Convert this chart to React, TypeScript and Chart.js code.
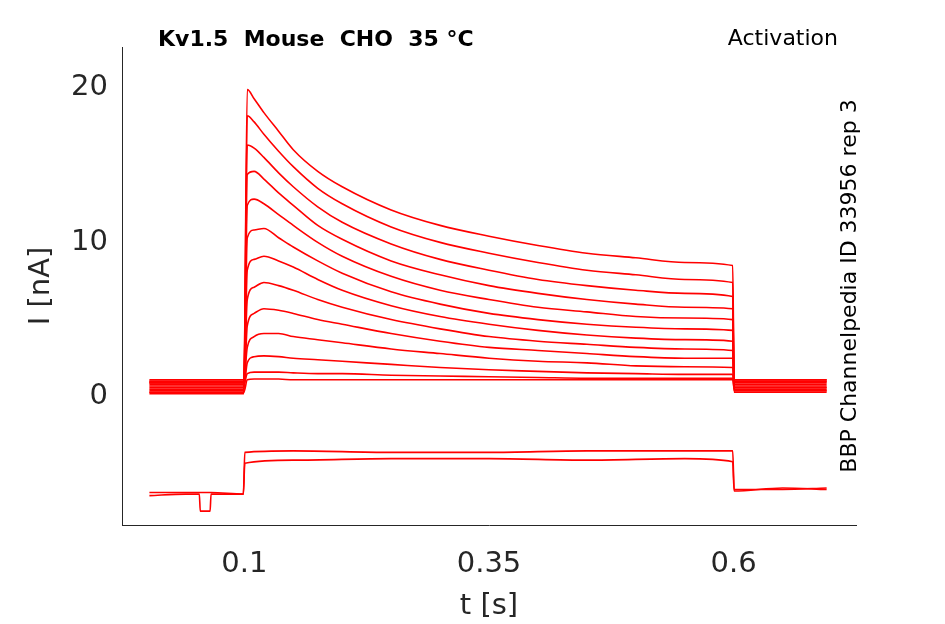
import React, { useEffect, useRef } from "react";
import { Chart, registerables } from "chart.js";
Chart.register(...registerables);

const stepTimes = [0.103, 0.11, 0.12, 0.135, 0.15, 0.175, 0.2, 0.25, 0.3, 0.35, 0.4, 0.45, 0.5, 0.55, 0.599];
const upTraces: number[][] = [
  [19.9, 19.3, 18.4, 17.2, 16.0, 14.6, 13.6, 12.1, 11.1, 10.4, 9.8, 9.3, 9.0, 8.7, 8.5],
  [18.2, 17.8, 17.0, 15.9, 14.9, 13.5, 12.5, 11.0, 10.0, 9.3, 8.7, 8.2, 7.9, 7.6, 7.4],
  [16.3, 16.1, 15.5, 14.5, 13.6, 12.3, 11.3, 9.9, 8.9, 8.2, 7.6, 7.2, 6.9, 6.7, 6.5],
  [14.4, 14.6, 14.1, 13.2, 12.4, 11.1, 10.2, 8.8, 7.9, 7.2, 6.7, 6.3, 6.0, 5.8, 5.7],
  [12.4, 12.8, 12.5, 11.8, 11.1, 10.0, 9.1, 7.8, 6.9, 6.3, 5.8, 5.5, 5.2, 5.1, 5.0],
  [10.3, 10.8, 10.9, 10.3, 9.7, 8.8, 8.0, 6.8, 6.0, 5.4, 5.0, 4.7, 4.5, 4.4, 4.3],
  [8.2, 8.9, 9.1, 8.8, 8.4, 7.6, 6.9, 5.9, 5.2, 4.7, 4.3, 4.0, 3.8, 3.7, 3.6],
  [6.3, 7.1, 7.4, 7.2, 6.9, 6.3, 5.8, 5.0, 4.4, 3.9, 3.6, 3.4, 3.2, 3.1, 3.0],
  [4.6, 5.4, 5.7, 5.6, 5.4, 5.0, 4.7, 4.1, 3.6, 3.2, 3.0, 2.8, 2.6, 2.5, 2.5],
  [3.2, 3.9, 4.1, 4.1, 3.9, 3.7, 3.5, 3.1, 2.8, 2.5, 2.3, 2.2, 2.0, 1.95, 1.9],
  [2.2, 2.6, 2.65, 2.6, 2.5, 2.4, 2.3, 2.1, 1.9, 1.75, 1.65, 1.55, 1.5, 1.45, 1.45],
  [1.5, 1.6, 1.6, 1.6, 1.55, 1.5, 1.5, 1.4, 1.35, 1.3, 1.25, 1.2, 1.2, 1.2, 1.2],
  [1.1, 1.15, 1.15, 1.15, 1.1, 1.1, 1.1, 1.1, 1.1, 1.1, 1.1, 1.1, 1.1, 1.1, 1.1],
];
const preBase = [0.9, 1.0, 0.5, 0.3, 1.1, 0.7, 0.2, 0.9, 0.4, 1.0, 0.6, 0.8, 0.3];
const postBase = [1.0, 0.6, 0.4, 1.1, 0.8, 0.3, 0.9, 0.5, 1.0, 0.7, 0.4, 1.1, 0.6];

const negTimes = [0.003, 0.04, 0.054, 0.055, 0.065, 0.066, 0.099, 0.1005, 0.15, 0.25, 0.35, 0.45, 0.55, 0.599, 0.6005, 0.65, 0.695];
const negTraceA = [-6.4, -6.3, -6.3, -7.4, -7.4, -6.3, -6.3, -3.6, -3.5, -3.6, -3.6, -3.5, -3.5, -3.5, -6.0, -6.0, -5.9];
const negTraceB = [-6.2, -6.2, -6.2, -6.2, -6.2, -6.2, -6.3, -4.3, -4.1, -4.0, -4.0, -4.1, -4.0, -4.2, -6.1, -5.9, -6.0];

const xTicks = [0.1, 0.35, 0.6];
const yTicks = [0, 10, 20];

export default function App() {
  const ref = useRef<HTMLCanvasElement>(null);
  useEffect(() => {
    const datasets: any[] = upTraces.map((vals, i) => ({
      data: [
        { x: 0.003, y: preBase[i] },
        { x: 0.0995, y: preBase[i] },
        ...stepTimes.map((t, j) => ({ x: t, y: vals[j] })),
        { x: 0.6005, y: postBase[i] },
        { x: 0.695, y: postBase[i] },
      ],
    }));
    datasets.push({ data: negTimes.map((t, j) => ({ x: t, y: negTraceA[j] })) });
    datasets.push({ data: negTimes.map((t, j) => ({ x: t, y: negTraceB[j] })) });
    datasets.forEach((d) => {
      d.borderColor = "#ff0000";
      d.borderWidth = 1.6;
      d.pointRadius = 0;
      d.cubicInterpolationMode = "monotone";
    });
    const textPlugin = {
      id: "texts",
      afterDraw(c: any) {
        const ctx = c.ctx;
        ctx.save();
        ctx.fillStyle = "#000";
        ctx.font = "bold 22px 'DejaVu Sans'";
        ctx.textBaseline = "middle";
        ctx.fillText("Kv1.5  Mouse  CHO  35 °C", 158, 40);
        ctx.font = "22px 'DejaVu Sans'";
        ctx.textAlign = "right";
        ctx.fillText("Activation", 838, 39);
        ctx.translate(850, 286);
        ctx.rotate(-Math.PI / 2);
        ctx.textAlign = "center";
        ctx.fillText("BBP Channelpedia ID 33956 rep 3", 0, 0);
        ctx.restore();
      },
    };
    const tickFont = { family: "'DejaVu Sans'", size: 29 };
    const chart = new Chart(ref.current!, {
      type: "line",
      data: { datasets },
      plugins: [textPlugin],
      options: {
        animation: false,
        responsive: false,
        layout: { padding: { top: 47, right: 89, left: 24, bottom: 0 } },
        plugins: { legend: { display: false }, tooltip: { enabled: false } },
        scales: {
          x: {
            type: "linear",
            min: -0.025,
            max: 0.725,
            grid: { display: false, drawTicks: false },
            border: { color: "#262626", width: 1 },
            afterBuildTicks: (s: any) => { s.ticks = xTicks.map((v) => ({ value: v })); },
            afterFit: (s: any) => { s.height = 99; },
            ticks: { color: "#262626", font: tickFont, callback: (v: any) => String(v), maxRotation: 0, padding: 22 },
            title: { display: true, text: "t [s]", color: "#262626", font: tickFont, padding: 0 },
          },
          y: {
            min: -8.3,
            max: 22.65,
            grid: { display: false, drawTicks: false },
            border: { color: "#262626", width: 1 },
            afterBuildTicks: (s: any) => { s.ticks = yTicks.map((v) => ({ value: v })); },
            afterFit: (s: any) => { s.width = 98; },
            ticks: { color: "#262626", font: tickFont, padding: 14 },
            title: { display: true, text: "I [nA]", color: "#262626", font: tickFont, padding: { top: 0, bottom: 0 } },
          },
        },
      },
    } as any);
    return () => chart.destroy();
  }, []);
  return (
    <div style={{ position: "fixed", left: 0, top: 0, width: 945, height: 624, background: "#fff" }}>
      <canvas ref={ref} width={945} height={624} style={{ width: 945, height: 624 }} />
    </div>
  );
}
